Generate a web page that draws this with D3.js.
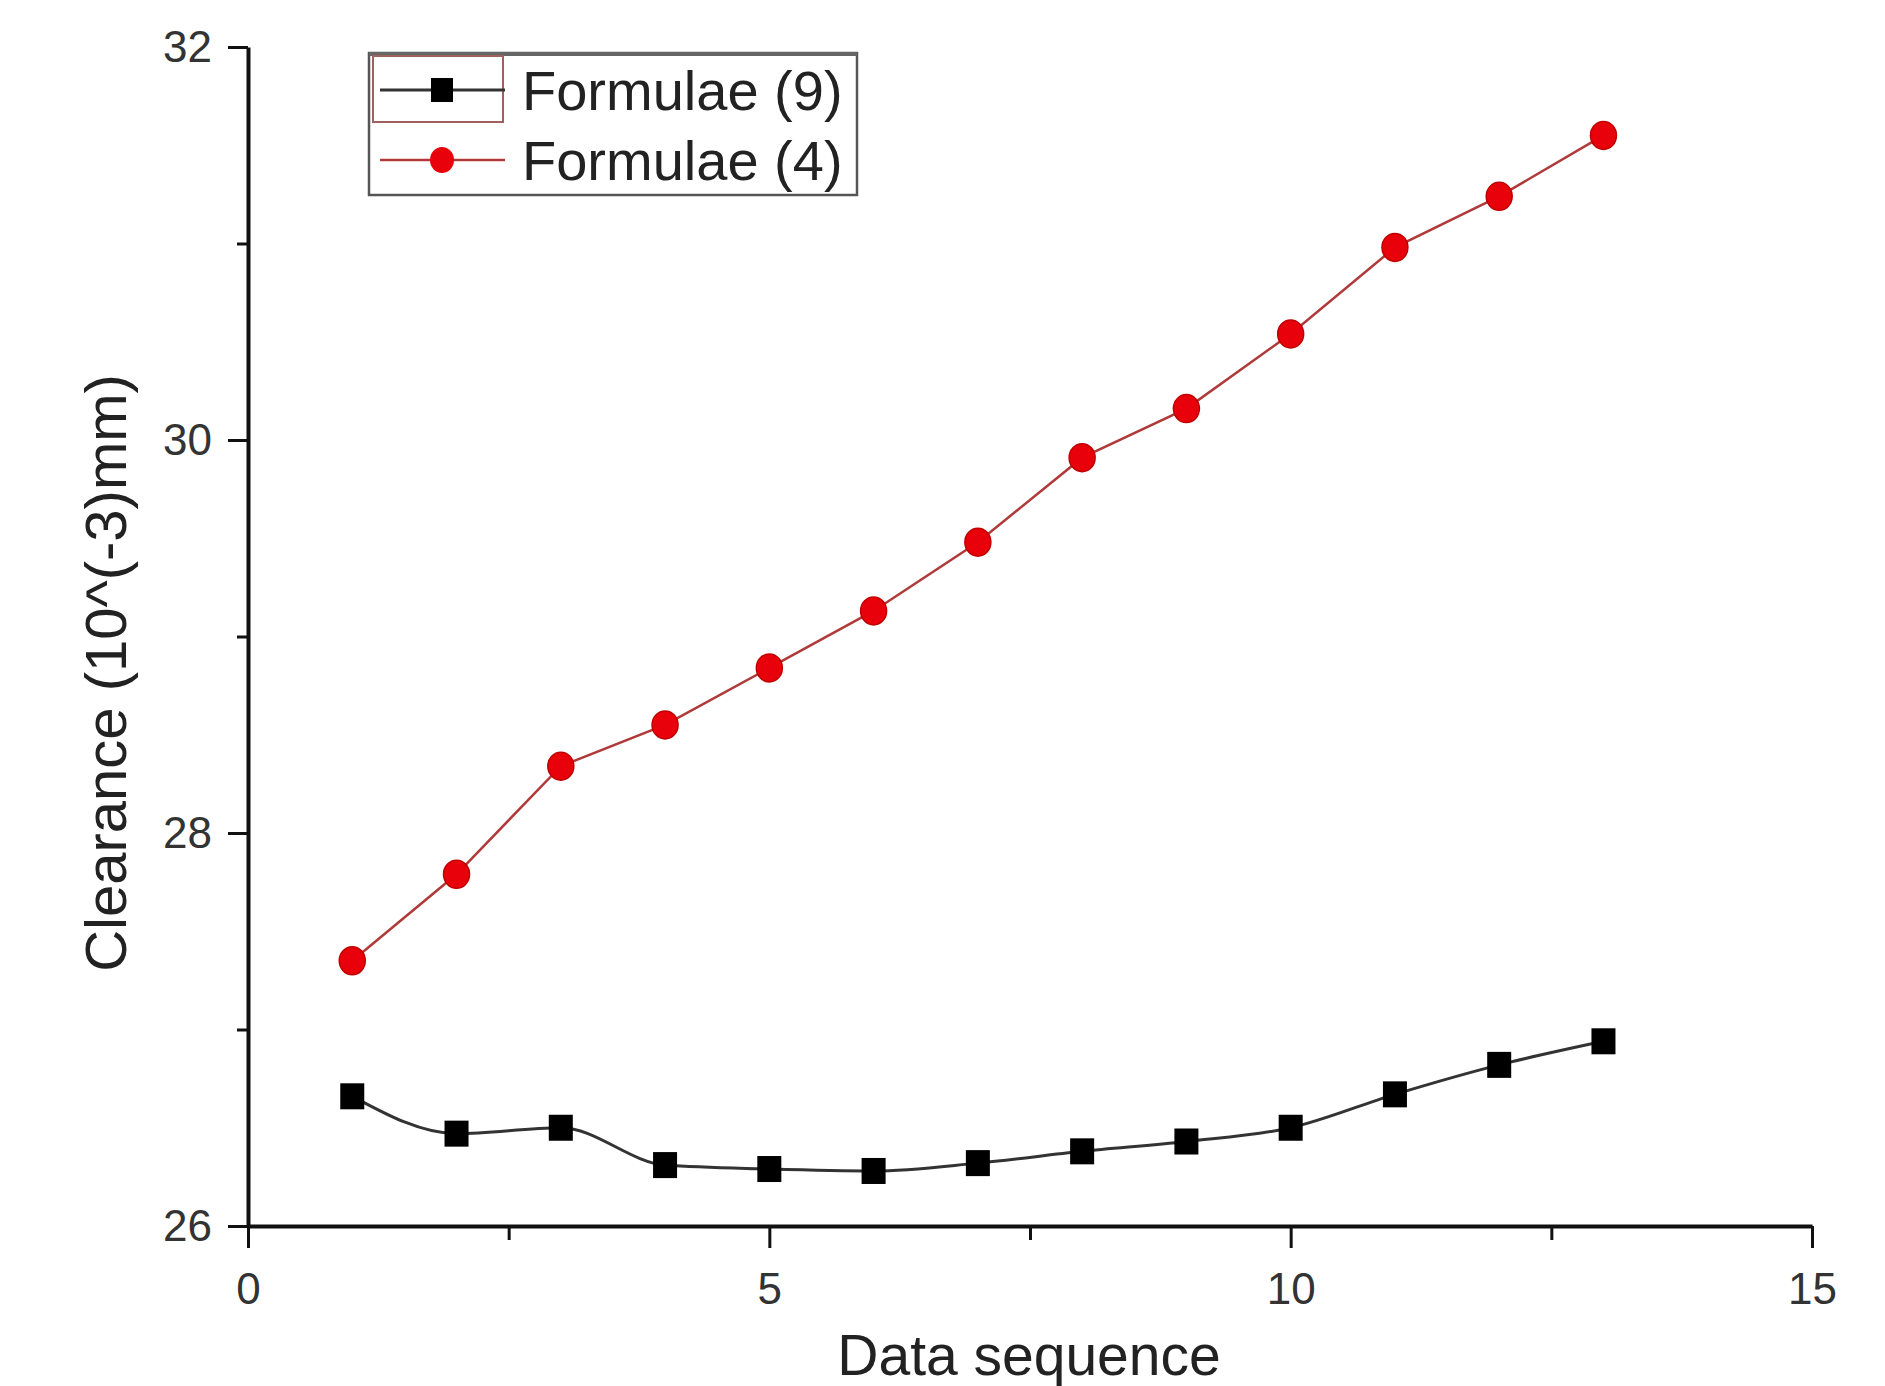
<!DOCTYPE html>
<html>
<head>
<meta charset="utf-8">
<script src="https://cdn.jsdelivr.net/npm/d3@7"></script>
<style>
  body { margin: 0; background: #fff; }
  text { font-family: "Liberation Sans", Arial, sans-serif; }
</style>
</head>
<body>
<svg width="1885" height="1386"></svg>
<script>
// data
var sequence = [1, 2, 3, 4, 5, 6, 7, 8, 9, 10, 11, 12, 13];
var formula9 = [26.66, 26.47, 26.50, 26.31, 26.29, 26.28, 26.32, 26.38, 26.43, 26.50, 26.67, 26.82, 26.94];
var formula4 = [27.35, 27.79, 28.34, 28.55, 28.84, 29.13, 29.48, 29.91, 30.16, 30.54, 30.98, 31.24, 31.55];
var seriesNames = ["Formulae (9)", "Formulae (4)"];
var xTicks = [0, 5, 10, 15];
var xMinorTicks = [2.5, 7.5, 12.5];
var yTicks = [26, 28, 30, 32];
var yMinorTicks = [27, 29, 31];

function main(){
    var svg = d3.select("svg"),
    margin = {top: 47, right: 73, bottom: 160, left: 248},
    width = svg.attr("width") - margin.left - margin.right,
    height = svg.attr("height") - margin.top - margin.bottom;

    var xScale = d3.scaleLinear().domain([0, 15]).range([0, width]),
    yScale = d3.scaleLinear().domain([26, 32]).range([height, 0]);

    var g = svg.append("g").attr("transform", "translate(" + margin.left + "," + margin.top + ")");

    // minor ticks first so the main axis sits on top
    g.append("g").attr("transform", "translate(0," + height + ")")
        .call(d3.axisBottom(xScale).tickValues(xMinorTicks).tickSize(14).tickFormat(""))
        .call(function(a){ a.select(".domain").remove(); })
        .selectAll("line").attr("stroke", "#111").attr("stroke-width", 3);

    g.append("g")
        .call(d3.axisLeft(yScale).tickValues(yMinorTicks).tickSize(11).tickFormat(""))
        .call(function(a){ a.select(".domain").remove(); })
        .selectAll("line").attr("stroke", "#111").attr("stroke-width", 3);

    var xAxis = g.append("g").attr("transform", "translate(0," + height + ")")
        .call(d3.axisBottom(xScale).tickValues(xTicks).tickSize(22).tickSizeOuter(0).tickPadding(25).tickFormat(d3.format("d")));
    xAxis.select(".domain").attr("stroke", "#111").attr("stroke-width", 4);
    xAxis.selectAll("line").attr("stroke", "#111").attr("stroke-width", 3);
    xAxis.selectAll("text").attr("font-size", "44px").attr("fill", "#333")
        .attr("font-family", "Liberation Sans, Arial, sans-serif");

    var yAxis = g.append("g")
        .call(d3.axisLeft(yScale).tickValues(yTicks).tickSize(20).tickSizeOuter(0).tickPadding(16).tickFormat(d3.format("d")));
    yAxis.select(".domain").attr("stroke", "#111").attr("stroke-width", 4);
    yAxis.selectAll("line").attr("stroke", "#111").attr("stroke-width", 3);
    yAxis.selectAll("text").attr("font-size", "44px").attr("fill", "#333")
        .attr("font-family", "Liberation Sans, Arial, sans-serif");

    svg.append("text")
        .attr("x", 1029)
        .attr("y", 1375)
        .attr("text-anchor", "middle")
        .attr("font-size", "57px")
        .attr("fill", "#222")
        .text("Data sequence");

    svg.append("text")
        .attr("transform", "translate(126,673) rotate(-90)")
        .attr("text-anchor", "middle")
        .attr("font-size", "58px")
        .attr("fill", "#222")
        .text("Clearance (10^(-3)mm)");

    var data9 = sequence.map(function(d, i){ return {x: d, y: formula9[i]}; });
    var data4 = sequence.map(function(d, i){ return {x: d, y: formula4[i]}; });

    var smooth = d3.line().curve(d3.curveMonotoneX)
        .x(function(d){ return xScale(d.x); })
        .y(function(d){ return yScale(d.y); });
    var straight = d3.line()
        .x(function(d){ return xScale(d.x); })
        .y(function(d){ return yScale(d.y); });

    g.append("path").datum(data9)
        .attr("d", smooth)
        .attr("fill", "none")
        .attr("stroke", "#333")
        .attr("stroke-width", 3);

    g.append("path").datum(data4)
        .attr("d", straight)
        .attr("fill", "none")
        .attr("stroke", "#b03a3a")
        .attr("stroke-width", 2.5);

    g.selectAll(".sq")
        .data(data9)
        .enter()
        .append("rect")
        .attr("class", "sq")
        .attr("x", function(d){ return xScale(d.x) - 12; })
        .attr("y", function(d){ return yScale(d.y) - 13; })
        .attr("width", 24)
        .attr("height", 26)
        .attr("fill", "#000");

    g.selectAll(".dot")
        .data(data4)
        .enter()
        .append("ellipse")
        .attr("class", "dot")
        .attr("cx", function(d){ return xScale(d.x); })
        .attr("cy", function(d){ return yScale(d.y); })
        .attr("rx", 13)
        .attr("ry", 14)
        .attr("fill", "#e8000b")
        .attr("stroke", "#c00000")
        .attr("stroke-width", 1.5);

    // legend
    var lg = svg.append("g").attr("transform", "translate(369,53)");
    lg.append("rect")
        .attr("width", 488).attr("height", 142)
        .attr("fill", "#fff")
        .attr("stroke", "#555").attr("stroke-width", 2.5);
    lg.append("line")
        .attr("x1", 0).attr("x2", 488).attr("y1", 1).attr("y2", 1)
        .attr("stroke", "#666").attr("stroke-width", 4);
    lg.append("rect")
        .attr("x", 4).attr("y", 3).attr("width", 130).attr("height", 66)
        .attr("fill", "none")
        .attr("stroke", "#a06060").attr("stroke-width", 2);

    lg.append("line").attr("x1", 11).attr("x2", 136).attr("y1", 37).attr("y2", 37)
        .attr("stroke", "#333").attr("stroke-width", 3);
    lg.append("rect").attr("x", 62).attr("y", 25).attr("width", 22).attr("height", 24).attr("fill", "#000");
    lg.append("line").attr("x1", 11).attr("x2", 136).attr("y1", 107).attr("y2", 107)
        .attr("stroke", "#b03a3a").attr("stroke-width", 2.5);
    lg.append("ellipse").attr("cx", 73).attr("cy", 107).attr("rx", 12).attr("ry", 13).attr("fill", "#e8000b");

    lg.selectAll(".lt")
        .data(seriesNames)
        .enter()
        .append("text")
        .attr("class", "lt")
        .attr("x", 153)
        .attr("y", function(d, i){ return 57 + i * 70; })
        .attr("font-size", "56px")
        .attr("fill", "#222")
        .text(function(d){ return d; });
}
main();
</script>
</body>
</html>
